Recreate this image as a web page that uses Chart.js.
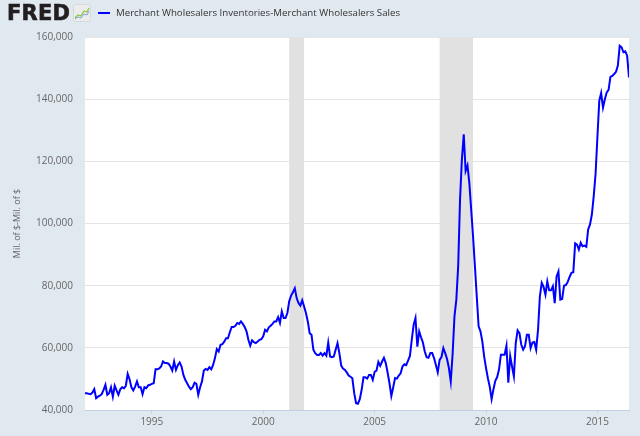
<!DOCTYPE html>
<html><head><meta charset="utf-8">
<script src="https://cdn.jsdelivr.net/npm/chart.js@4.4.1/dist/chart.umd.min.js"></script>
<style>
html,body{margin:0;padding:0;background:#e1e9f0;overflow:hidden;}
#wrap{position:relative;width:640px;height:436px;}
#c{position:absolute;left:0;top:0;}
#fred{position:absolute;left:7px;top:3px;font:bold 21px 'DejaVu Sans';line-height:20.5px;color:#231f20;letter-spacing:0.2px;white-space:nowrap;-webkit-text-stroke:0.6px #231f20;}
#icon{position:absolute;left:73px;top:4px;}
#legline{position:absolute;left:98px;top:12px;width:12px;height:2px;background:#0000ff;}
#legtext{position:absolute;left:116px;top:7px;font:9.7px 'Open Sans';line-height:12px;color:#333;white-space:nowrap;}
</style></head>
<body><div id="wrap">
<canvas id="c" width="640" height="436"></canvas>
<div id="fred">FRED</div>
<svg id="icon" width="18" height="18" viewBox="0 0 18 18"><rect x="0.5" y="0.5" width="17" height="17" rx="2" fill="#ececec" stroke="#d8d8d8"/><polyline points="2,14 5,11 8,12 11,7 14,8 16,4" fill="none" stroke="#8cc63f" stroke-width="1.2"/><polyline points="2,15 5,13 8,14 11,10 14,11 16,7" fill="none" stroke="#7fa7d8" stroke-width="1"/></svg>
<div id="legline"></div>
<div id="legtext">Merchant Wholesalers Inventories-Merchant Wholesalers Sales</div>
</div>
<script>
// Monthly series, Millions of dollars, starting January 1992
const startYear = 1992;
const seriesLabel = 'Merchant Wholesalers Inventories-Merchant Wholesalers Sales';
const gapValues = [
  45400,45400,45200,45100,45600,46700,43800,44300,44600,45100,46500,48100, // 1992
  44900,45400,47300,44300,47800,46300,44900,46700,47300,47000,47800,51600, // 1993
  49900,47300,46300,47500,49200,47300,47300,45100,47300,47000,47900,48100, // 1994
  48400,48600,53100,53100,53400,54000,55600,55100,55100,54900,54000,52700, // 1995
  55600,52900,54400,55300,54000,51300,49700,48600,47500,46700,47300,48800, // 1996
  48400,44900,47300,49200,52700,53200,52900,53800,53100,54500,56700,59600, // 1997
  58800,61000,61200,62000,63100,63100,65000,66700,66700,67100,68000,67700, // 1998
  68500,67700,66700,65300,62600,60700,62400,61800,61500,62000,62600,62800, // 1999
  63700,65800,65300,66600,67100,67700,68500,68500,69900,68000,71700,69600, // 2000
  69600,71200,75000,76800,77900,79200,76000,74400,73600,75300,73300,71200, // 2001
  68500,64700,64200,59400,58300,57700,57700,58300,57500,58300,57500,61700, // 2002
  57200,57000,57200,59400,61500,58300,54300,53300,52900,52100,51100,50700, // 2003
  50200,45400,42200,42000,43500,46500,50500,50500,50100,51300,51300,49700, // 2004
  52300,52700,55500,54200,55600,56800,55100,52000,48600,44500,47300,50300, // 2005
  50100,51100,51800,54000,54700,54400,55900,57400,62600,67400,69600,60400, // 2006
  65300,63400,61700,58800,57000,56800,58300,58300,56700,54500,52100,56100, // 2007
  57000,59900,58300,56400,53500,49200,58000,70100,75500,86300,107800,120700, // 2008
  128700,116900,118700,113100,104500,95900,86300,76600,66900,65300,62100,57200, // 2009
  53500,50200,47500,43500,46700,49400,50600,53100,57800,57800,57800,60700, // 2010
  48800,57400,54000,50800,61500,65600,64700,61000,59400,60500,64200,64200, // 2011
  59900,61700,61900,59400,65800,76600,80900,79600,77100,81400,78500,78500, // 2012
  79800,74400,83000,84600,75500,75700,80000,80200,81200,82800,84100,84300, // 2013
  93600,93200,91600,93800,92700,92900,92500,98100,99700,102900,108800,116000, // 2014
  128000,139500,142000,137300,140000,142200,143000,147200,147500,148100,148800,150800, // 2015
  157200,156700,155100,155400,154000,147000 // 2016
];
const tickYears = [1995, 2000, 2005, 2010, 2015];
const yTicks = [40000, 60000, 80000, 100000, 120000, 140000, 160000];
// Recessions as [start, end] in fractional years
const recessions = [[2001 + 2/12, 2001 + 10/12], [2007 + 11/12, 2009 + 5/12]];

const points = gapValues.map((v, i) => ({x: startYear + i / 12, y: v}));
const xMax = startYear + (gapValues.length - 1) / 12;

const plotBg = {
  id: 'plotBg',
  beforeDraw(chart) {
    const {ctx, chartArea: a} = chart;
    ctx.save();
    ctx.fillStyle = '#ffffff';
    ctx.fillRect(a.left, a.top, a.right - a.left, a.bottom - a.top);
    ctx.restore();
  }
};
const shading = {
  id: 'shading',
  beforeDatasetsDraw(chart) {
    const {ctx, chartArea: a, scales: {x}} = chart;
    ctx.save();
    ctx.fillStyle = '#e1e1e1';
    recessions.forEach(([s, e]) => {
      const x0 = x.getPixelForValue(s), x1 = x.getPixelForValue(e);
      ctx.fillRect(x0, a.top, x1 - x0, a.bottom - a.top);
    });
    ctx.restore();
  }
};

new Chart(document.getElementById('c'), {
  type: 'line',
  data: {datasets: [{
    label: seriesLabel,
    data: points,
    borderColor: '#0000ff',
    borderWidth: 2,
    pointRadius: 0,
    tension: 0,
    fill: false
  }]},
  options: {
    responsive: false,
    animation: false,
    devicePixelRatio: 1,
    layout: {padding: {top: 37, right: 11, left: 0, bottom: 0}},
    plugins: {legend: {display: false}, tooltip: {enabled: false}},
    scales: {
      x: {
        type: 'linear',
        min: startYear,
        max: xMax,
        afterBuildTicks: (axis) => { axis.ticks = tickYears.map(v => ({value: v})); },
        afterFit: (s) => { s.height = 26; },
        grid: {display: true, drawOnChartArea: false, drawTicks: true, tickLength: 4, color: '#c8d4e2'},
        border: {display: true, color: '#c0d0e0', width: 1},
        ticks: {autoSkip: false, maxRotation: 0, padding: 2, color: '#666', font: {family: 'Open Sans', size: 10},
          callback: (v) => String(v)}
      },
      y: {
        min: 40000,
        max: 160000,
        afterBuildTicks: (axis) => { axis.ticks = yTicks.map(v => ({value: v})); },
        afterFit: (s) => { s.width = 85; },
        grid: {color: '#e4e4e4', drawTicks: false},
        border: {display: false},
        ticks: {padding: 12, color: '#666', font: {family: 'Open Sans', size: 10},
          callback: (v) => v.toLocaleString('en-US')},
        title: {display: true, text: 'Mil. of $-Mil. of $', color: '#666', font: {family: 'Open Sans', size: 9}, padding: {top: 12, bottom: 0}}
      }
    }
  },
  plugins: [plotBg, shading]
});
</script>
</body></html>
